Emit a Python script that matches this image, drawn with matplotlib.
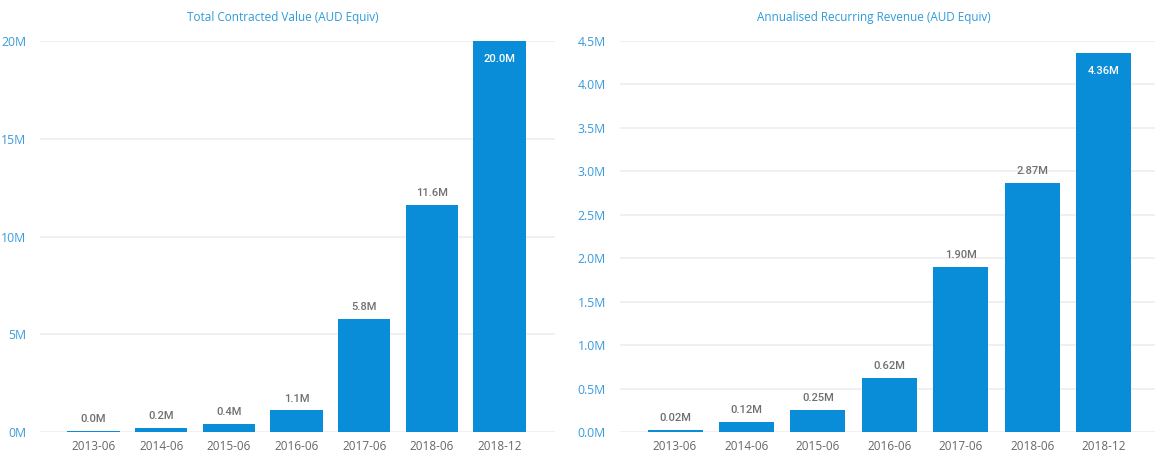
import matplotlib.pyplot as plt
import numpy as np

# --------------------------------------------------
# DATA
# --------------------------------------------------
periods = ["2013-06", "2014-06", "2015-06", "2016-06", "2017-06", "2018-06", "2018-12"]

tcv_values = [0.04, 0.2, 0.4, 1.1, 5.8, 11.6, 20.0]          # millions
tcv_labels = ["0.0M", "0.2M", "0.4M", "1.1M", "5.8M", "11.6M", "20.0M"]
tcv_ticks = [0, 5, 10, 15, 20]
tcv_tick_labels = ["0M", "5M", "10M", "15M", "20M"]

arr_values = [0.02, 0.12, 0.25, 0.62, 1.90, 2.87, 4.36]      # millions
arr_labels = ["0.02M", "0.12M", "0.25M", "0.62M", "1.90M", "2.87M", "4.36M"]
arr_ticks = [0, 0.5, 1.0, 1.5, 2.0, 2.5, 3.0, 3.5, 4.0, 4.5]
arr_tick_labels = ["0.0M", "0.5M", "1.0M", "1.5M", "2.0M", "2.5M", "3.0M", "3.5M", "4.0M", "4.5M"]

# --------------------------------------------------
# STYLE
# --------------------------------------------------
BAR = "#0A8DD9"
TITLE = "#2E9BDA"
YTICK = "#3A9ADB"
XTICK = "#666666"
LABEL = "#707070"
GRID = "#EEEEEE"

plt.rcParams["font.family"] = ["Open Sans", "DejaVu Sans"]

W, H = 1155, 457
fig = plt.figure(figsize=(W / 100, H / 100), dpi=100)


def px_axes(x0, x1, y_top, y_bot):
    return fig.add_axes([x0 / W, 1 - y_bot / H, (x1 - x0) / W, (y_bot - y_top) / H])


def draw_panel(ax, values, labels, ticks, tick_labels, ymax, xlim):
    x = np.arange(len(periods))
    ax.bar(x, values, width=0.77, color=BAR, zorder=2)
    ax.set_xlim(*xlim)
    ax.set_ylim(0, ymax)
    ax.set_yticks(ticks)
    ax.set_yticklabels(tick_labels)
    ax.set_xticks(x)
    ax.set_xticklabels(periods)
    ax.grid(axis="y", color=GRID, linewidth=1.2, zorder=0)
    for s in ax.spines.values():
        s.set_visible(False)
    ax.tick_params(axis="both", length=0)
    ax.tick_params(axis="y", colors=YTICK, labelsize=8.8, pad=10)
    ax.tick_params(axis="x", colors=XTICK, labelsize=8.5, pad=6)

    for xi, v, lab in zip(x, values, labels):
        if v / ymax > 0.93:
            ax.annotate(lab, (xi, v), xytext=(0, -9), textcoords="offset points",
                        ha="center", va="top", fontsize=8, color="white",
                        fontweight="medium", family=["Roboto", "DejaVu Sans"])
        else:
            ax.annotate(lab, (xi, v), xytext=(0, 5), textcoords="offset points",
                        ha="center", va="bottom", fontsize=8, color=LABEL,
                        fontweight="medium", family=["Roboto", "DejaVu Sans"])


# --------------------------------------------------
# LEFT: TOTAL CONTRACTED VALUE
# --------------------------------------------------
ax1 = px_axes(40, 555, 41, 432)
draw_panel(ax1, tcv_values, tcv_labels, tcv_ticks, tcv_tick_labels, 20, (-0.79, 6.82))
fig.text(283 / W, 1 - 18 / H, "Total Contracted Value (AUD Equiv)",
         ha="center", va="center", color=TITLE, fontsize=8.5)

# --------------------------------------------------
# RIGHT: ANNUALISED RECURRING REVENUE
# --------------------------------------------------
ax2 = px_axes(620, 1155, 41, 432)
draw_panel(ax2, arr_values, arr_labels, arr_ticks, arr_tick_labels, 4.5, (-0.77, 6.72))
fig.text(874 / W, 1 - 18 / H, "Annualised Recurring Revenue (AUD Equiv)",
         ha="center", va="center", color=TITLE, fontsize=8.5)

plt.savefig("out.png", dpi=100)
